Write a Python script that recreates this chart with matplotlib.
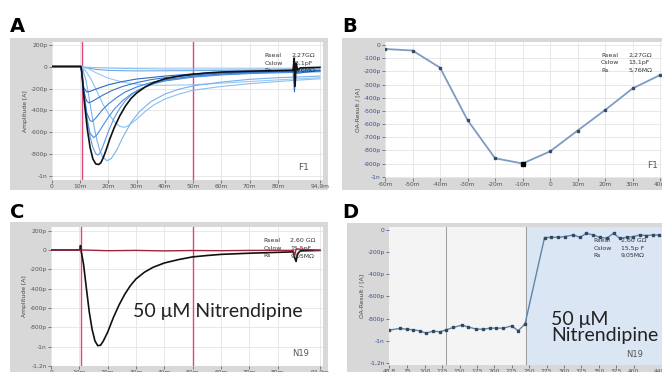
import matplotlib
matplotlib.use("Agg")
import matplotlib.pyplot as plt
from matplotlib.patches import Rectangle

W, H = 662, 372
fig = plt.figure(figsize=(W / 100, H / 100), dpi=100)
fig.patch.set_facecolor("white")

# ---------------- data ----------------
# Panel A: current traces (time in ms, current in pA)
a_black_t = [0, 10.2, 10.5, 10.8, 11.5, 12.5, 13.5, 14.5, 15.5, 16.5, 17.3, 18.2, 19.2, 20.5, 22, 24, 26, 28, 30, 33, 36, 40, 45, 50, 55, 60, 70, 80, 85.4, 85.8, 86.1, 86.5, 87, 88, 94.9]
a_black_i = [5, 5, -40, -120, -330, -570, -740, -845, -890, -895, -880, -830, -760, -660, -560, -450, -360, -290, -240, -185, -145, -110, -85, -68, -56, -48, -40, -35, -32, 80, -180, 30, -30, -10, -5]

a_m60_t = [0, 10.3, 15, 25, 40, 60, 85.4, 94.9]
a_m60_i = [0, 0, -8, -15, -20, -20, -18, -12]
a_m50_t = [0, 10.3, 12, 16, 20, 30, 50, 85.4, 94.9]
a_m50_i = [0, 0, -10, -25, -33, -38, -35, -28, -22]
a_m40_t = [0, 10.3, 13, 16, 20, 25, 30, 35, 40, 50, 60, 70, 80, 85.4, 94.9]
a_m40_i = [0, 0, -20, -60, -105, -140, -160, -168, -170, -165, -150, -135, -120, -112, -100]
a_m30_t = [0, 10.3, 12, 14, 16, 18, 20, 22, 24, 25.5, 27, 30, 33, 36, 40, 45, 50, 60, 70, 80, 85.4, 94.9]
a_m30_i = [0, 0, -40, -120, -230, -340, -430, -500, -545, -555, -540, -480, -410, -350, -295, -250, -215, -180, -155, -135, -125, -110]
a_m20_t = [0, 10.3, 11, 12, 13, 14, 15, 16, 17, 18, 19.5, 21, 23, 25, 28, 31, 35, 40, 45, 50, 60, 70, 80, 85.4, 94.9]
a_m20_i = [0, 0, -30, -120, -260, -420, -560, -680, -770, -830, -860, -840, -760, -650, -510, -410, -320, -250, -205, -175, -140, -115, -100, -95, -85]
a_p0_t = [0, 10.3, 10.7, 11.5, 12.5, 13.5, 14.5, 15.5, 16.2, 17, 18, 19, 20, 22, 24, 26, 28, 30, 35, 40, 50, 60, 70, 80, 85.4, 94.9]
a_p0_i = [0, 0, -60, -250, -480, -640, -740, -795, -810, -790, -730, -660, -590, -470, -380, -310, -260, -220, -160, -125, -90, -70, -58, -50, -47, -40]
a_p10_t = [0, 10.3, 10.7, 11.5, 12.5, 13.5, 14.8, 16, 18, 20, 22, 25, 28, 32, 36, 40, 50, 60, 70, 80, 85.4, 94.9]
a_p10_i = [0, 0, -80, -300, -500, -610, -650, -620, -540, -460, -390, -310, -250, -195, -155, -130, -95, -75, -62, -55, -52, -45]
a_p20_t = [0, 10.3, 10.6, 11.3, 12.3, 13.5, 14.3, 15.5, 18, 20, 23, 26, 30, 35, 40, 50, 60, 70, 80, 85.4, 94.9]
a_p20_i = [0, 0, -80, -280, -420, -495, -500, -470, -390, -340, -280, -230, -185, -145, -118, -85, -65, -52, -45, -43, -38]
a_p30_t = [0, 10.3, 10.6, 11.2, 12.2, 13, 14, 16, 18, 21, 25, 30, 35, 40, 50, 60, 70, 80, 85.4, 94.9]
a_p30_i = [0, 0, -80, -220, -310, -330, -320, -290, -260, -220, -180, -145, -118, -100, -75, -58, -48, -42, -40, -35]
a_p40_t = [0, 10.3, 10.6, 11.2, 12.3, 13.5, 16, 20, 25, 30, 40, 50, 60, 80, 85.4, 85.9, 86.3, 86.8, 94.9]
a_p40_i = [0, 0, -80, -190, -230, -225, -200, -165, -135, -112, -85, -65, -52, -40, -38, -230, 40, -60, -32]

a_x_ticks = [0, 10, 20, 30, 40, 50, 60, 70, 80, 94.9]
a_x_labels = ["0", "10m", "20m", "30m", "40m", "50m", "60m", "70m", "80m", "94,9m"]
a_y_ticks = [200, 0, -200, -400, -600, -800, -1000]
a_y_labels = ["200p", "0", "-200p", "-400p", "-600p", "-800p", "-1n"]
cursor_t = [10.5, 50]

# Panel B: IV curve (voltage mV, peak current pA)
b_v = [-60, -50, -40, -30, -20, -10, 0, 10, 20, 30, 40]
b_i = [-30, -42, -172, -570, -860, -900, -808, -650, -494, -330, -228]
b_x_labels = ["-60m", "-50m", "-40m", "-30m", "-20m", "-10m", "0", "10m", "20m", "30m", "40m"]
b_y_ticks = [0, -100, -200, -300, -400, -500, -600, -700, -800, -900, -1000]
b_y_labels = ["0", "-100p", "-200p", "-300p", "-400p", "-500p", "-600p", "-700p", "-800p", "-900p", "-1n"]

# Panel C: control trace and trace with nitrendipine
c_black_t = [0, 10.2, 10.4, 10.7, 11.5, 12.5, 13.5, 14.5, 15.5, 16.5, 17.5, 18.5, 20, 22, 24, 26, 28, 30, 33, 36, 40, 45, 50, 55, 60, 70, 80, 85.5, 86, 86.5, 87, 88, 94.9]
c_black_i = [0, 0, 45, -20, -150, -400, -640, -820, -940, -990, -985, -940, -850, -700, -570, -460, -370, -300, -230, -180, -135, -100, -72, -58, -46, -34, -25, -20, -80, -120, -40, -10, -5]
c_red_t = [0, 10.4, 20, 30, 40, 50, 60, 70, 80, 85.5, 86, 86.5, 94.9]
c_red_i = [0, 0, -8, -5, -10, -6, -8, -5, -4, -5, -60, 10, -3]
c_y_ticks = [200, 0, -200, -400, -600, -800, -1000, -1200]
c_y_labels = ["200p", "0", "-200p", "-400p", "-600p", "-800p", "-1n", "-1,2n"]

# Panel D: peak current over time
d_t = [48.8, 64, 74, 83, 93, 102, 112, 122, 131, 141, 153, 162, 174, 184, 194, 203, 213, 225, 234, 244,
       272, 282, 292, 301, 313, 323, 332, 342, 351, 361, 371, 380, 390, 399, 409, 418, 428, 437]
d_i = [-905, -890, -896, -902, -911, -933, -914, -920, -902, -881, -860, -875, -896, -896, -887, -887, -887, -866, -911, -850,
       -69, -66, -66, -60, -45, -66, -30, -45, -66, -75, -30, -75, -66, -60, -45, -50, -45, -45]
d_x_ticks = [48.8, 75, 100, 125, 150, 175, 200, 225, 250, 275, 300, 325, 350, 375, 400, 440.6]
d_x_labels = ["48.8", "75", "100", "125", "150", "175", "200", "225", "250", "275", "300", "325", "350", "375", "400", "440,6"]
d_y_ticks = [0, -200, -400, -600, -800, -1000, -1200]
d_y_labels = ["0", "-200p", "-400p", "-600p", "-800p", "-1n", "-1,2n"]
d_marks = [130, 246]

# ---------------- helpers ----------------
FRAME = "#d8d8d8"
GRID = "#e4e4e4"


def frame(x0, y0, x1, y1):
    fig.patches.append(Rectangle((x0 / W, 1 - y1 / H), (x1 - x0) / W, (y1 - y0) / H,
                                 transform=fig.transFigure, facecolor=FRAME, edgecolor="none", zorder=-10))


def axes_px(x0, y0, x1, y1):
    ax = fig.add_axes([x0 / W, 1 - y1 / H, (x1 - x0) / W, (y1 - y0) / H])
    ax.set_facecolor("white")
    for s in ax.spines.values():
        s.set_visible(False)
    ax.tick_params(length=2, width=0.5, pad=1, labelsize=4.3, colors="#555555")
    ax.grid(True, color=GRID, lw=0.6)
    ax.set_axisbelow(True)
    return ax


def info(ax, x, y, lines, fs=4.5):
    for k, (name, val) in enumerate(lines):
        ax.text(x, y - k * 0.055, name, transform=ax.transAxes, fontsize=fs, color="#333333", va="top")
        ax.text(x + 0.1, y - k * 0.055, val, transform=ax.transAxes, fontsize=fs, color="#333333", va="top")


def letter(x, y, s):
    fig.text(x / W, 1 - y / H, s, fontsize=14, fontweight="bold", va="center", ha="left", color="black")


# ---------------- Panel A ----------------
frame(10, 38, 328, 190)
axA = axes_px(52, 42, 323, 180)
blue_traces = [
    (a_m60_t, a_m60_i, "#8cc0f0"), (a_m50_t, a_m50_i, "#6fa9e6"), (a_m40_t, a_m40_i, "#9ac8f2"),
    (a_m30_t, a_m30_i, "#8cbff0"), (a_m20_t, a_m20_i, "#78b2ee"), (a_p0_t, a_p0_i, "#5b9be4"),
    (a_p10_t, a_p10_i, "#4d8fde"), (a_p20_t, a_p20_i, "#3f82d6"), (a_p30_t, a_p30_i, "#3676cc"),
    (a_p40_t, a_p40_i, "#2b69c2"),
]
for t, i, c in blue_traces:
    axA.plot(t, i, color=c, lw=0.8, zorder=3)
axA.plot(a_black_t, a_black_i, color="#111111", lw=1.2, zorder=4)
for ct in cursor_t:
    axA.axvline(ct, color="#e2457a", lw=1.0, zorder=2)
axA.set_xlim(0, 96)
axA.set_ylim(-1037, 227)
axA.set_xticks(a_x_ticks, a_x_labels)
axA.set_yticks(a_y_ticks, a_y_labels)
axA.set_ylabel("Amplitude [A]", fontsize=4.3, color="#444444", labelpad=2)
info(axA, 0.785, 0.92, [("Rseal", "2,27GΩ"), ("Cslow", "13,1pF"), ("Rs", "5,76MΩ")])
axA.text(0.95, 0.06, "F1", transform=axA.transAxes, fontsize=6.5, color="#555555", ha="right", va="bottom")
letter(10, 27, "A")

# ---------------- Panel B ----------------
frame(342, 38, 662, 190)
axB = axes_px(385, 42, 662, 178)
axB.plot(b_v, b_i, color="#7c9cc4", lw=1.3, zorder=3)
axB.plot(b_v, b_i, "s", color="#3a4a60", ms=1.6, zorder=4)
imin = b_i.index(min(b_i))
axB.plot([b_v[imin]], [b_i[imin]], "s", color="black", ms=3.2, zorder=5)
axB.set_xlim(-60, 40.7)
axB.set_ylim(-1010, 23)
axB.set_xticks(b_v, b_x_labels)
axB.set_yticks(b_y_ticks, b_y_labels)
axB.tick_params(axis="y", colors="#3c4f8a")
axB.tick_params(axis="x", colors="#555555")
axB.set_ylabel("OA-Result / [A]", fontsize=4.3, color="#444444", labelpad=2)
info(axB, 0.78, 0.92, [("Rseal", "2,27GΩ"), ("Cslow", "13,1pF"), ("Rs", "5,76MΩ")])
axB.text(0.985, 0.06, "F1", transform=axB.transAxes, fontsize=6.5, color="#555555", ha="right", va="bottom")
letter(342, 27, "B")

# ---------------- Panel C ----------------
frame(10, 222, 328, 372)
axC = axes_px(51, 227, 323, 366)
axC.plot(c_black_t, c_black_i, color="#111111", lw=1.2, zorder=3)
axC.plot(c_red_t, c_red_i, color="#a3233f", lw=1.0, zorder=4)
for ct in cursor_t:
    axC.axvline(ct, color="#e2457a", lw=1.0, zorder=2)
axC.set_xlim(0, 96)
axC.set_ylim(-1200, 237)
axC.set_xticks(a_x_ticks, a_x_labels)
axC.set_yticks(c_y_ticks, c_y_labels)
axC.set_ylabel("Amplitude [A]", fontsize=4.3, color="#444444", labelpad=2)
info(axC, 0.78, 0.92, [("Rseal", "2,60 GΩ"), ("Cslow", "15,5pF"), ("Rs", "9,05MΩ")])
axC.text(0.95, 0.06, "N19", transform=axC.transAxes, fontsize=6, color="#555555", ha="right", va="bottom")
axC.text(0.30, 0.39, "50 μM Nitrendipine", transform=axC.transAxes, fontsize=14, color="#222222",
         ha="left", va="center", family="Lato")
letter(10, 212, "C")

# ---------------- Panel D ----------------
frame(347, 223, 662, 372)
axD = axes_px(389, 227, 662, 365)
d_xmax = 440.6
axD.set_xlim(48.8, d_xmax)
axD.set_ylim(-1220, 27)
axD.axvspan(48.8, d_marks[1], color="#f4f4f4", zorder=0)
axD.axvspan(d_marks[1], d_xmax, color="#dae6f4", zorder=0)
for m in d_marks:
    axD.axvline(m, color="#9a9a9a", lw=0.7, zorder=1)
axD.grid(False)
axD.plot(d_t, d_i, color="#5f84ad", lw=1.0, zorder=3)
axD.plot(d_t, d_i, "s", color="#33485f", ms=1.5, zorder=4)
axD.set_xticks(d_x_ticks, d_x_labels)
axD.set_yticks(d_y_ticks, d_y_labels)
axD.tick_params(axis="y", colors="#3c4f8a")
axD.set_ylabel("OA-Result / [A]", fontsize=4.3, color="#444444", labelpad=2)
info(axD, 0.75, 0.92, [("Rseal", "2,60 GΩ"), ("Cslow", "15,5p F"), ("Rs", "9,05MΩ")])
axD.text(0.93, 0.04, "N19", transform=axD.transAxes, fontsize=6, color="#555555", ha="right", va="bottom")
axD.text(0.595, 0.27, "50 μM\nNitrendipine", transform=axD.transAxes, fontsize=14, color="#222222",
         ha="left", va="center", linespacing=0.95, family="Lato")
letter(342, 212, "D")

fig.savefig("out.png", dpi=100)
